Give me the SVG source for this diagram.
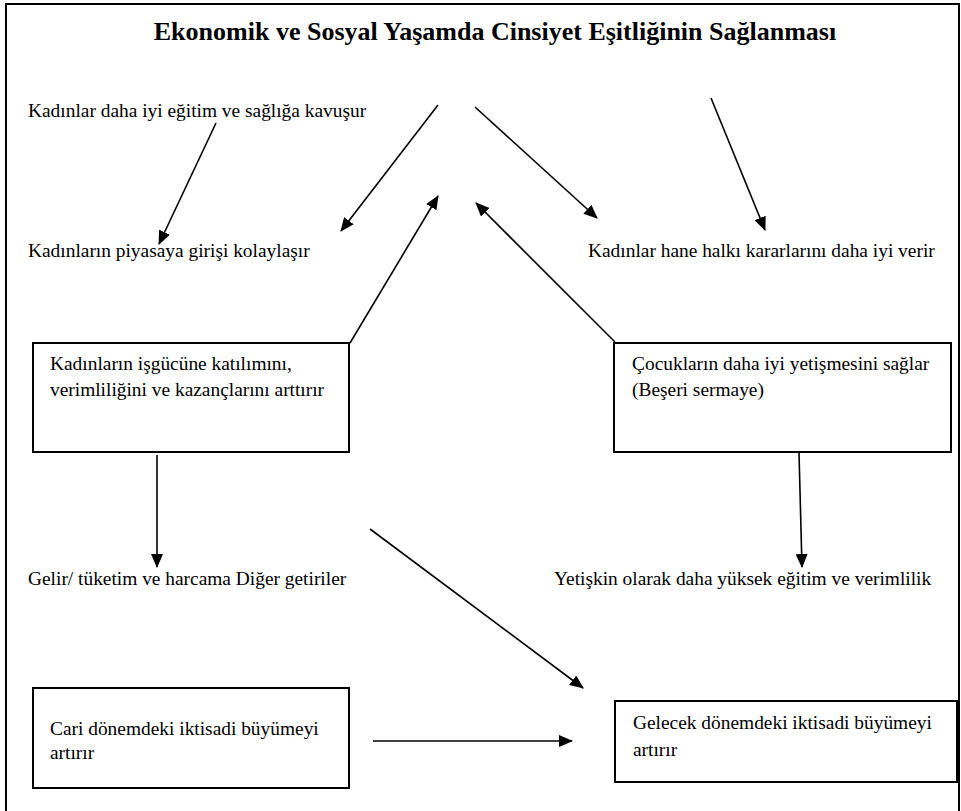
<svg xmlns="http://www.w3.org/2000/svg" width="961" height="811" viewBox="0 0 961 811">
<defs>
<marker id="ah" markerWidth="14" markerHeight="12" refX="13" refY="6" orient="auto" markerUnits="userSpaceOnUse">
<path d="M0,0 L14,6 L0,12 Z" fill="#000"/>
</marker>
</defs>
<rect width="961" height="811" fill="#fff"/>
<path d="M6,811 V4 H959 V811" stroke="#000" stroke-width="2" fill="none"/>
<text x="495" y="40" font-family="Liberation Serif" font-size="26" font-weight="bold" text-anchor="middle">Ekonomik ve Sosyal Yaşamda Cinsiyet Eşitliğinin Sağlanması</text>
<g id="n-egitim"><text x="28" y="117" font-family="Liberation Serif" font-size="19.4">Kadınlar daha iyi eğitim ve sağlığa kavuşur</text></g>
<g id="n-piyasa"><text x="28" y="257" font-family="Liberation Serif" font-size="19.4">Kadınların piyasaya girişi kolaylaşır</text></g>
<g id="n-hane"><text x="588" y="257" font-family="Liberation Serif" font-size="19.4">Kadınlar hane halkı kararlarını daha iyi verir</text></g>
<g id="n-isgucu">
<rect x="33" y="343" width="316" height="109" fill="#fff" stroke="#000" stroke-width="2"/>
<text x="50" y="370" font-family="Liberation Serif" font-size="19.4">Kadınların işgücüne katılımını,</text>
<text x="50" y="396" font-family="Liberation Serif" font-size="19.4">verimliliğini ve kazançlarını arttırır</text>
</g>
<g id="n-cocuk">
<rect x="614" y="343" width="337" height="109" fill="#fff" stroke="#000" stroke-width="2"/>
<text x="632" y="370" font-family="Liberation Serif" font-size="19.4">Çocukların daha iyi yetişmesini sağlar</text>
<text x="632" y="396" font-family="Liberation Serif" font-size="19.4">(Beşeri sermaye)</text>
</g>
<g id="n-gelir"><text x="28" y="585" font-family="Liberation Serif" font-size="19.4">Gelir/ tüketim ve harcama Diğer getiriler</text></g>
<g id="n-yetiskin"><text x="554" y="585" font-family="Liberation Serif" font-size="19.4">Yetişkin olarak daha yüksek eğitim ve verimlilik</text></g>
<g id="n-cari">
<rect x="33" y="688" width="316" height="100" fill="#fff" stroke="#000" stroke-width="2"/>
<text x="50" y="735" font-family="Liberation Serif" font-size="19.4">Cari dönemdeki iktisadi büyümeyi</text>
<text x="50" y="759" font-family="Liberation Serif" font-size="19.4">artırır</text>
</g>
<g id="n-gelecek">
<rect x="615" y="701" width="342" height="81" fill="#fff" stroke="#000" stroke-width="2"/>
<text x="633" y="729" font-family="Liberation Serif" font-size="19.4">Gelecek dönemdeki iktisadi büyümeyi</text>
<text x="633" y="756" font-family="Liberation Serif" font-size="19.4">artırır</text>
</g>
<g id="connectors" stroke="#000" stroke-width="1.6" fill="none" marker-end="url(#ah)">
<line x1="216" y1="123" x2="159" y2="244"/>
<line x1="438" y1="105" x2="341" y2="231"/>
<line x1="475" y1="107" x2="597" y2="218"/>
<line x1="711" y1="98" x2="765" y2="230"/>
<line x1="350" y1="343" x2="438" y2="196"/>
<line x1="615" y1="342" x2="476" y2="203"/>
<line x1="157" y1="455" x2="157" y2="567"/>
<line x1="799" y1="453" x2="802" y2="567"/>
<line x1="370" y1="529" x2="583" y2="688"/>
<line x1="373" y1="741" x2="572" y2="741"/>
</g>
</svg>
